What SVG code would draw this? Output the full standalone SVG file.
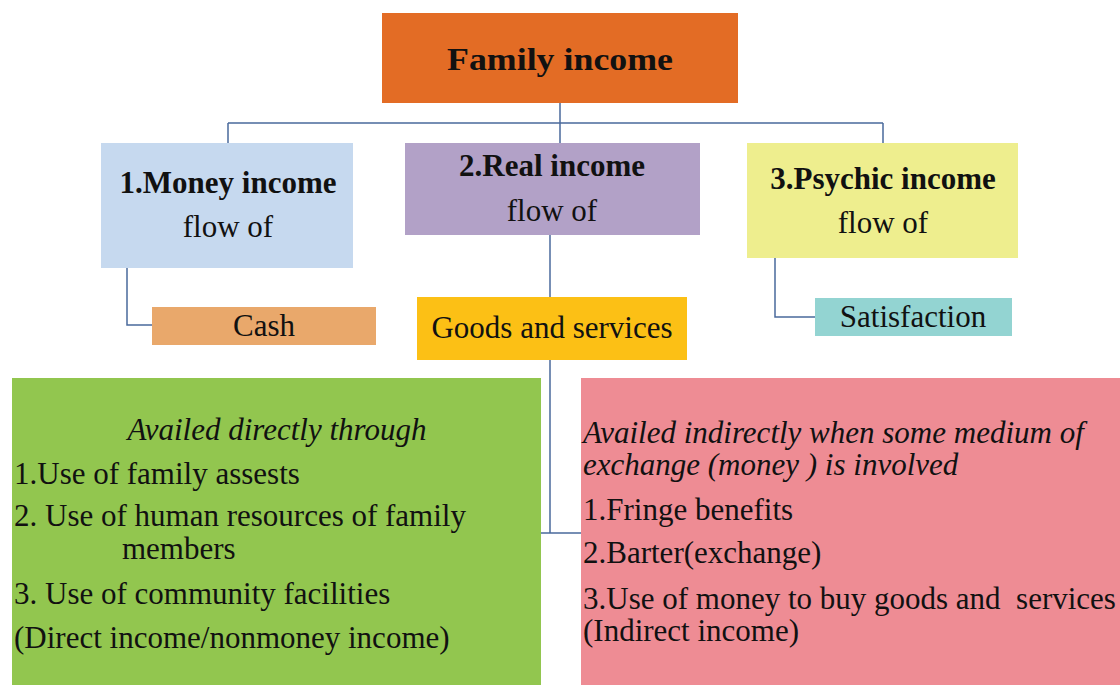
<svg xmlns="http://www.w3.org/2000/svg" width="1120" height="685" viewBox="0 0 1120 685">
<style>
text{font-family:"Liberation Serif","Times New Roman",serif;fill:#111;font-size:31px}
.b{font-weight:bold}
.i{font-style:italic}
.c{text-anchor:middle}
.ln{fill:none;stroke:#4A6A9C;stroke-width:1.5}
</style>
<rect width="1120" height="685" fill="#fff"/>
<g id="connectors">
<path class="ln" d="M560 103V123M228 123H883M228 123V143M560 123V143M883 123V143"/>
<path class="ln" d="M127 268V325H152"/>
<path class="ln" d="M550 235V297"/>
<path class="ln" d="M775 258V317H815"/>
<path class="ln" d="M550 360V533M541 533H581"/>
</g>
<g id="family-income">
<rect x="382" y="13" width="356" height="90" fill="#E36C25"/>
<text class="b" x="447" y="70" font-size="35" textLength="226" lengthAdjust="spacingAndGlyphs">Family income</text>
</g>
<g id="money-income">
<rect x="101" y="143" width="252" height="125" fill="#C6D9EF"/>
<text class="b c" x="228" y="193">1.Money income</text>
<text class="c" x="228" y="237">flow of</text>
</g>
<g id="real-income">
<rect x="405" y="143" width="295" height="92" fill="#B2A1C7"/>
<text class="b c" x="552" y="176">2.Real income</text>
<text class="c" x="552" y="221">flow of</text>
</g>
<g id="psychic-income">
<rect x="747" y="143" width="271" height="115" fill="#EEEE8E"/>
<text class="b c" x="883" y="189">3.Psychic income</text>
<text class="c" x="883" y="233">flow of</text>
</g>
<g id="cash">
<rect x="152" y="307" width="224" height="38" fill="#E9A86B"/>
<text class="c" x="264" y="336">Cash</text>
</g>
<g id="goods">
<rect x="417" y="297" width="270" height="63" fill="#FCC015"/>
<text class="c" x="552" y="338">Goods and services</text>
</g>
<g id="satisfaction">
<rect x="815" y="298" width="197" height="38" fill="#93D4D2"/>
<text class="c" x="913" y="327">Satisfaction</text>
</g>
<g id="direct">
<rect x="12" y="378" width="529" height="307" fill="#92C64F"/>
<text class="i c" x="277" y="440">Availed directly through</text>
<text x="14" y="484">1.Use of family assests</text>
<text x="14" y="526">2. Use of human resources of family</text>
<text x="122" y="559">members</text>
<text x="14" y="604">3. Use of community facilities</text>
<text x="14" y="648">(Direct income/nonmoney income)</text>
</g>
<g id="indirect">
<rect x="581" y="378" width="539" height="307" fill="#EE8C94"/>
<text class="i" x="583" y="443">Availed indirectly when some medium of</text>
<text class="i" x="583" y="475">exchange (money ) is involved</text>
<text x="583" y="520">1.Fringe benefits</text>
<text x="583" y="563">2.Barter(exchange)</text>
<text x="583" y="609" xml:space="preserve">3.Use of money to buy goods and  services</text>
<text x="583" y="641">(Indirect income)</text>
</g>
</svg>
